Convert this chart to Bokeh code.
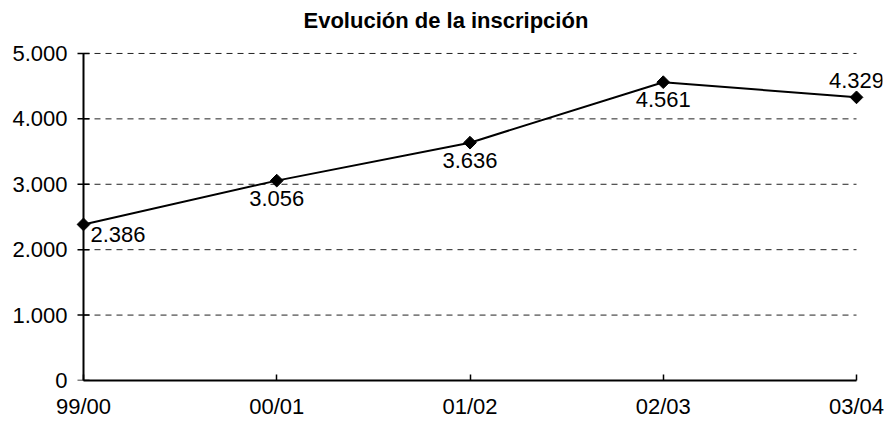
import math
from bokeh.plotting import figure
from bokeh.models import Range1d, FixedTicker, Label
from bokeh.embed import file_html
from bokeh.resources import INLINE

# ---- data ----
categories = ["99/00", "00/01", "01/02", "02/03", "03/04"]
inscripcion = [2386, 3056, 3636, 4561, 4329]
y_ticks = [0, 1000, 2000, 3000, 4000, 5000]
title_text = "Evolución de la inscripción"
label_side = ["right", "below", "below", "below", "above"]


def fmt(v):
    return f"{v:,}".replace(",", ".")


FONT = "Liberation Sans"
xs = list(range(len(categories)))

# view padding so edge markers / labels are not clipped by the frame
x_pad_left, x_pad_right = 0.0414, 0.1345
y_pad_top = 290

p = figure(width=889, height=421, output_backend="svg", toolbar_location=None,
           x_range=Range1d(xs[0] - x_pad_left, xs[-1] + x_pad_right),
           y_range=Range1d(y_ticks[0], y_ticks[-1] + y_pad_top),
           min_border_left=75, min_border_right=7, min_border_top=34,
           min_border_bottom=41)
p.outline_line_color = None
p.background_fill_color = "white"
p.border_fill_color = "white"

p.title.text = title_text
p.title.text_font = FONT
p.title.text_font_size = "22px"
p.title.text_font_style = "bold"
p.title.text_color = "black"
p.title.align = "left"
p.title.offset = 228
p.title.standoff = 4

# grid (dashed, spanning the category extent only)
p.xgrid.visible = False
p.ygrid.visible = False
grid_y = y_ticks[1:]
p.segment(x0=[xs[0]] * len(grid_y), x1=[xs[-1]] * len(grid_y), y0=grid_y, y1=grid_y,
          line_color="#222222", line_dash="6 5", line_width=1)

# value axis line and crossing ticks, placed at the first category
p.segment(x0=[xs[0]], x1=[xs[0]], y0=[y_ticks[0]], y1=[y_ticks[-1]],
          line_color="black", line_width=2)
p.scatter([xs[0]] * len(y_ticks), y_ticks, marker="dash", size=12,
          line_color="black", line_width=1.5)

# axes (labels only for y; x axis drawn by bokeh)
p.yaxis.ticker = FixedTicker(ticks=y_ticks)
p.yaxis.major_label_overrides = {t: fmt(t) for t in y_ticks}
p.yaxis.axis_line_color = None
p.yaxis.major_tick_line_color = None
p.yaxis.major_tick_out = 0
p.yaxis.major_tick_in = 0
p.yaxis.major_label_standoff = 8
p.xaxis.ticker = FixedTicker(ticks=xs)
p.xaxis.major_label_overrides = {x: c for x, c in zip(xs, categories)}
p.xaxis.bounds = (xs[0], xs[-1])
p.xaxis.axis_line_color = "black"
p.xaxis.axis_line_width = 2
p.xaxis.major_tick_line_color = "black"
p.xaxis.major_tick_line_width = 1.5
p.xaxis.major_tick_out = 0
p.xaxis.major_tick_in = 6
p.xaxis.major_label_standoff = 13
for ax in (p.xaxis[0], p.yaxis[0]):
    ax.minor_tick_line_color = None
    ax.major_label_text_font = FONT
    ax.major_label_text_font_size = "22px"
    ax.major_label_text_color = "black"

# series
p.line(xs, inscripcion, line_color="black", line_width=2)
p.scatter(xs, inscripcion, marker="square", angle=math.pi / 4, size=9,
          fill_color="black", line_color="black")

for x, v, side in zip(xs, inscripcion, label_side):
    if side == "right":
        kw = dict(text_align="left", text_baseline="top", x_offset=7, y_offset=-3)
    elif side == "below":
        kw = dict(text_align="center", text_baseline="top", x_offset=0, y_offset=-10)
    else:
        kw = dict(text_align="center", text_baseline="alphabetic", x_offset=0, y_offset=17)
    p.add_layout(Label(x=x, y=v, text=fmt(v), text_font=FONT, text_font_size="22px",
                       text_color="black", **kw))

open("out.html", "w").write(file_html(p, INLINE))
